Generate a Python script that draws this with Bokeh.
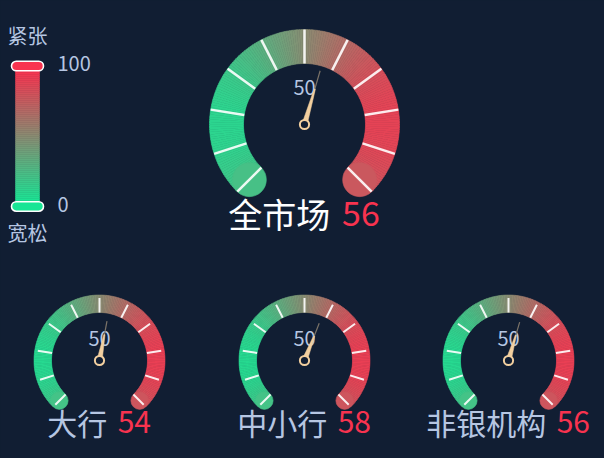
import numpy as np
from bokeh.plotting import figure
from bokeh.core.properties import value
from bokeh.embed import file_html
from bokeh.resources import INLINE

# data
names = ["全市场", "大行", "中小行", "非银机构"]
values = [56, 54, 58, 56]
axis_min, axis_max = 0, 100
split_values = [0, 10, 20, 30, 40, 50, 60, 70, 80, 90, 100]
label_values = [50]
legend_top, legend_bottom = "紧张", "宽松"
legend_max_label, legend_min_label = "100", "0"

# look
BG = "#111e33"
GREEN = (24, 229, 149)
RED = (249, 51, 79)
WHEAT = "#f2cf9f"
LABEL = "#b6c6e2"
NUM = "#f8334f"
FONT = value("Noto Sans CJK SC")
W, H = 604, 458

# gauge layout in page pixels: cx, cy, inner r, outer r, tick inset, label dist, pointer len, title y, font
gauges = [
    dict(cx=304, cy=124, ri=61, ro=95, inset=0, lab=37, plen=56, ty=213, fs=34, name_color="#ffffff", tw=2.5),
    dict(cx=99, cy=360, ri=48, ro=65.5, inset=3, lab=22, plen=40, ty=421, fs=30, name_color=LABEL, tw=2),
    dict(cx=304, cy=360, ri=48, ro=65.5, inset=3, lab=22, plen=40, ty=421, fs=30, name_color=LABEL, tw=2),
    dict(cx=508, cy=360, ri=48, ro=65.5, inset=3, lab=22, plen=40, ty=421, fs=30, name_color=LABEL, tw=2),
]
START, END = np.radians(225), np.radians(-45)


def grad(t):
    t = min(max(t, 0), 1)
    c = [int(round(a + (b - a) * t)) for a, b in zip(GREEN, RED)]
    return "#%02x%02x%02x" % tuple(c)


def ang(v):
    return START + (v - axis_min) / (axis_max - axis_min) * (END - START)


def Y(ypix):
    return H - ypix


p = figure(width=W, height=H, x_range=(0, W), y_range=(0, H),
           output_backend="svg", toolbar_location=None, min_border=0,
           background_fill_color=BG, border_fill_color=BG)
p.axis.visible = False
p.grid.visible = False
p.outline_line_color = None

for g, name, val in zip(gauges, names, values):
    cx, cy = g["cx"], Y(g["cy"])
    ri, ro = g["ri"], g["ro"]
    # band, sliced and coloured by x position
    n = 180
    a = np.linspace(START, END, n + 1)
    a0, a1 = a[1:], a[:-1]
    mid = (a0 + a1) / 2
    rm = (ri + ro) / 2
    cols = [grad((np.cos(m) * rm + ro) / (2 * ro)) for m in mid]
    p.annular_wedge(x=cx, y=cy, inner_radius=ri, outer_radius=ro,
                    start_angle=list(a0), end_angle=list(a1), fill_color=cols,
                    line_color=cols, line_width=0.6)
    # round caps
    for e in (START, END):
        ex, ey = cx + np.cos(e) * rm, cy + np.sin(e) * rm
        c = grad((np.cos(e) * rm + ro) / (2 * ro))
        p.circle(x=[ex], y=[ey], radius=(ro - ri) / 2, fill_color=c, line_color=c, line_width=0.6)
    # split lines
    ta = np.array([ang(v) for v in split_values])
    p.segment(x0=cx + np.cos(ta) * ri, y0=cy + np.sin(ta) * ri,
              x1=cx + np.cos(ta) * (ro - g["inset"]), y1=cy + np.sin(ta) * (ro - g["inset"]),
              line_color="white", line_alpha=0.9, line_width=g["tw"])
    # axis labels
    la = np.array([ang(v) for v in label_values])
    p.text(x=cx + np.cos(la) * g["lab"], y=cy + np.sin(la) * g["lab"],
           text=[str(v) for v in label_values], text_font=FONT, text_font_size="20px",
           text_color=LABEL, text_align="center", text_baseline="middle")
    # pointer
    pa = ang(val)
    ux, uy = np.cos(pa), np.sin(pa)
    px, py = -uy, ux
    L = g["plen"]
    p.segment(x0=[cx + ux * L * 0.5], y0=[cy + uy * L * 0.5], x1=[cx + ux * L], y1=[cy + uy * L],
              line_color="#7b7368", line_width=1.2)
    p.patch(x=[cx + px * 2.6, cx + ux * L * 0.66 + px * 0.6, cx + ux * L * 0.66 - px * 0.6, cx - px * 2.6],
            y=[cy + py * 2.6, cy + uy * L * 0.66 + py * 0.6, cy + uy * L * 0.66 - py * 0.6, cy - py * 2.6],
            fill_color=WHEAT, line_color=WHEAT, line_width=0.5)
    p.circle(x=[cx], y=[cy], radius=4.6, fill_color=BG, line_color=WHEAT, line_width=2)
    # title: name + value, centred under the gauge
    fs = g["fs"]
    num = str(val)
    wn, gap, wv = len(name) * fs, 0.35 * fs, len(num) * 0.57 * fs
    x0 = g["cx"] - (wn + gap + wv) / 2
    p.text(x=[x0 + wn], y=[Y(g["ty"])], text=[name], text_font=FONT, text_font_size="%dpx" % fs,
           text_color=g["name_color"], text_align="right", text_baseline="middle")
    p.text(x=[x0 + wn + gap], y=[Y(g["ty"])], text=[num], text_font=FONT, text_font_size="%dpx" % fs,
           text_color=NUM, text_align="left", text_baseline="middle")

# continuous legend
bar_x, bar_w, bar_top, bar_bot = 27, 24, 70, 202
ns = 66
edges = np.linspace(Y(bar_bot), Y(bar_top), ns + 1)
scol = [grad((i + 0.5) / ns) for i in range(ns)]
p.quad(left=bar_x - bar_w / 2, right=bar_x + bar_w / 2, bottom=edges[:-1], top=edges[1:],
       fill_color=scol, line_color=scol, line_width=0.5)
p.rect(x=[bar_x, bar_x], y=[Y(65.5), Y(206)], width=32, height=9.5,
       fill_color=[grad(1), grad(0)], line_color="white", line_width=1.6, border_radius=5)
p.text(x=[7, 7], y=[Y(35), Y(232)], text=[legend_top, legend_bottom], text_font=FONT,
       text_font_size="20px", text_color=LABEL, text_align="left", text_baseline="middle")
p.text(x=[57, 57], y=[Y(63), Y(204)], text=[legend_max_label, legend_min_label], text_font=FONT,
       text_font_size="20px", text_color=LABEL, text_align="left", text_baseline="middle")

html = file_html(p, INLINE)
html = html.replace("</head>", "<style>html,body{background:%s;}</style></head>" % BG, 1)
open("out.html", "w").write(html)
